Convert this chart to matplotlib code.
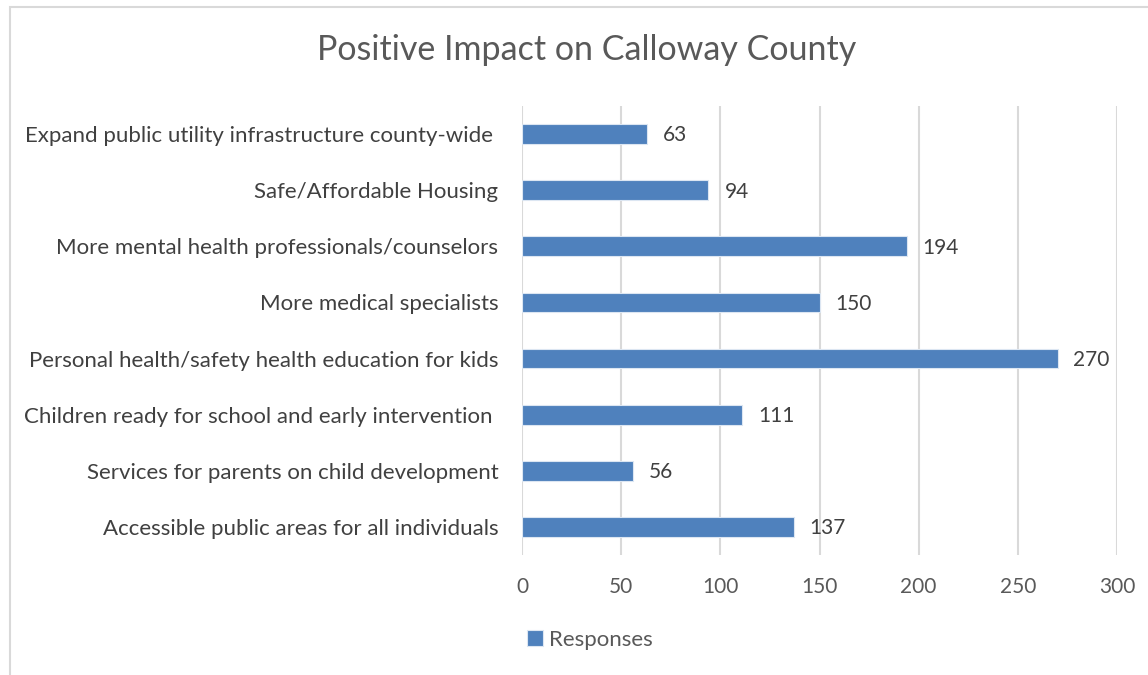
import matplotlib
matplotlib.use("Agg")
import matplotlib.pyplot as plt
from matplotlib.patches import Rectangle

categories = [
    "Expand public utility infrastructure county-wide ",
    "Safe/Affordable Housing",
    "More mental health professionals/counselors",
    "More medical specialists",
    "Personal health/safety health education for kids",
    "Children ready for school and early intervention ",
    "Services for parents on child development",
    "Accessible public areas for all individuals",
]
responses = [63, 94, 194, 150, 270, 111, 56, 137]
xticks = [0, 50, 100, 150, 200, 250, 300]
series_name = "Responses"
title = "Positive Impact on Calloway County"

plt.rcParams['font.family'] = ['Lato', 'DejaVu Sans']

fig = plt.figure(figsize=(11.48, 6.75), dpi=100)
ax = fig.add_axes([522/1148, 1-555/675, (1117-522)/1148, (555-106)/675])

ypos = list(range(len(categories)))[::-1]
bars = ax.barh(ypos, responses, height=0.35, color="#4F81BD",
               edgecolor="#DCE6F2", linewidth=0.8, label=series_name, zorder=3)
for y, v in zip(ypos, responses):
    ax.annotate(str(v), xy=(v, y), xytext=(11.5, -1), textcoords="offset points",
                ha="left", va="center", fontsize=15, color="#404040")

ax.set_ylim(-0.5, len(categories)-0.5)
ax.set_xlim(0, 300)
ax.set_xticks(xticks)
ax.set_xticklabels([str(t) for t in xticks])
ax.set_yticks(ypos)
ax.set_yticklabels(categories)
ax.tick_params(axis='x', length=0, pad=16, labelsize=15, labelcolor="#595959")
ax.tick_params(axis='y', length=0, pad=17, labelsize=16, labelcolor="#404040")
for s in ax.spines.values():
    s.set_visible(False)
ax.grid(axis='x', color="#D9D9D9", linewidth=1.5, zorder=0)
ax.set_axisbelow(True)

fig.text(0.511, 1-50/675, title, ha="center", va="center", fontsize=24.5, color="#595959")

leg = fig.legend(handles=[bars], labels=[series_name], loc="center",
                 bbox_to_anchor=(590/1148, 1-640/675), frameon=False,
                 fontsize=16, handlelength=0.7, handleheight=0.7, handletextpad=0.3)
for t in leg.get_texts():
    t.set_color("#595959")

fig.patches.append(Rectangle((10/1148, -0.01), 1.02, 1-7/675+0.01, transform=fig.transFigure,
                             fill=False, edgecolor="#D9D9D9", linewidth=1.5))

fig.savefig("out.png", dpi=100, facecolor="white")
